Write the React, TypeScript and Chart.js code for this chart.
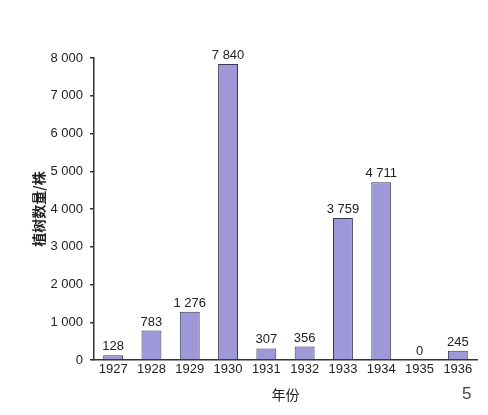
import React, { useEffect, useRef } from "react";
import { Chart, registerables } from "chart.js";

Chart.register(...registerables);

const years = ["1927", "1928", "1929", "1930", "1931", "1932", "1933", "1934", "1935", "1936"];
const trees = [128, 783, 1276, 7840, 307, 356, 3759, 4711, 0, 245];
const yTicks = [0, 1000, 2000, 3000, 4000, 5000, 6000, 7000, 8000];
const yTitle = "植树数量/株";
const xTitle = "年份";
const pageNumber = "5";

const fmt = (n: number) => {
  const s = String(Math.round(n));
  return s.length > 3 ? s.slice(0, s.length - 3) + " " + s.slice(s.length - 3) : s;
};

const FONT = "'Liberation Sans', 'DejaVu Sans', sans-serif";
const CJK = "'Noto Sans CJK SC', sans-serif";

const valueLabels = {
  id: "valueLabels",
  afterDatasetsDraw(chart: any) {
    const ctx = chart.ctx;
    const meta = chart.getDatasetMeta(0);
    ctx.save();
    ctx.font = `13px ${FONT}`;
    ctx.fillStyle = "#222";
    ctx.textAlign = "center";
    ctx.textBaseline = "bottom";
    meta.data.forEach((el: any, i: number) => {
      const v = chart.data.datasets[0].data[i] as number;
      ctx.fillText(fmt(v), el.x, el.y - 2);
    });
    ctx.restore();
  },
};

export default function App() {
  const ref = useRef<HTMLCanvasElement | null>(null);
  useEffect(() => {
    if (!ref.current) return;
    const chart = new Chart(ref.current, {
      type: "bar",
      data: {
        labels: years,
        datasets: [
          {
            data: trees,
            backgroundColor: "#9f98d8",
            borderColor: "#3a3850",
            borderWidth: 1,
            barPercentage: 0.52,
            categoryPercentage: 1,
          },
        ],
      },
      options: {
        animation: false,
        responsive: false,
        maintainAspectRatio: false,
        layout: { padding: { left: 0, right: 11, top: 58, bottom: 0 } },
        plugins: { legend: { display: false }, tooltip: { enabled: false } },
        scales: {
          x: {
            afterFit: (s: any) => {
              s.height = 55;
            },
            grid: { display: false, drawTicks: false },
            border: { display: true, color: "#333", width: 1.5 },
            ticks: { color: "#222", font: { size: 13, family: FONT }, padding: 2, maxRotation: 0, autoSkip: false },
            title: {
              display: true,
              text: xTitle,
              color: "#222",
              font: { size: 14, family: CJK },
              padding: { top: 0, bottom: 12 },
            },
          },
          y: {
            min: 0,
            max: 8000,
            afterFit: (s: any) => {
              s.width = 94;
            },
            afterBuildTicks: (s: any) => {
              s.ticks = yTicks.map((v) => ({ value: v }));
            },
            grid: { display: true, drawOnChartArea: false, drawTicks: true, tickLength: 4, color: "#333", lineWidth: 1.5 },
            border: { display: true, color: "#333", width: 1.5 },
            ticks: {
              color: "#222",
              font: { size: 13, family: FONT },
              padding: 7,
              callback: (v: any) => fmt(Number(v)),
            },
            title: {
              display: true,
              text: yTitle,
              color: "#222",
              font: { size: 14, family: CJK, weight: "bold" },
              padding: { top: 30, bottom: 0 },
            },
          },
        },
      },
      plugins: [valueLabels],
    });
    return () => chart.destroy();
  }, []);

  return (
    <div style={{ position: "absolute", left: 0, top: 0, width: 488, height: 415, background: "#fff" }}>
      <canvas ref={ref} width={488} height={415} style={{ display: "block" }} />
      <div
        style={{
          position: "absolute",
          left: 462,
          top: 385,
          fontFamily: FONT,
          fontSize: 17,
          lineHeight: 1,
          color: "#444",
        }}
      >
        {pageNumber}
      </div>
    </div>
  );
}
